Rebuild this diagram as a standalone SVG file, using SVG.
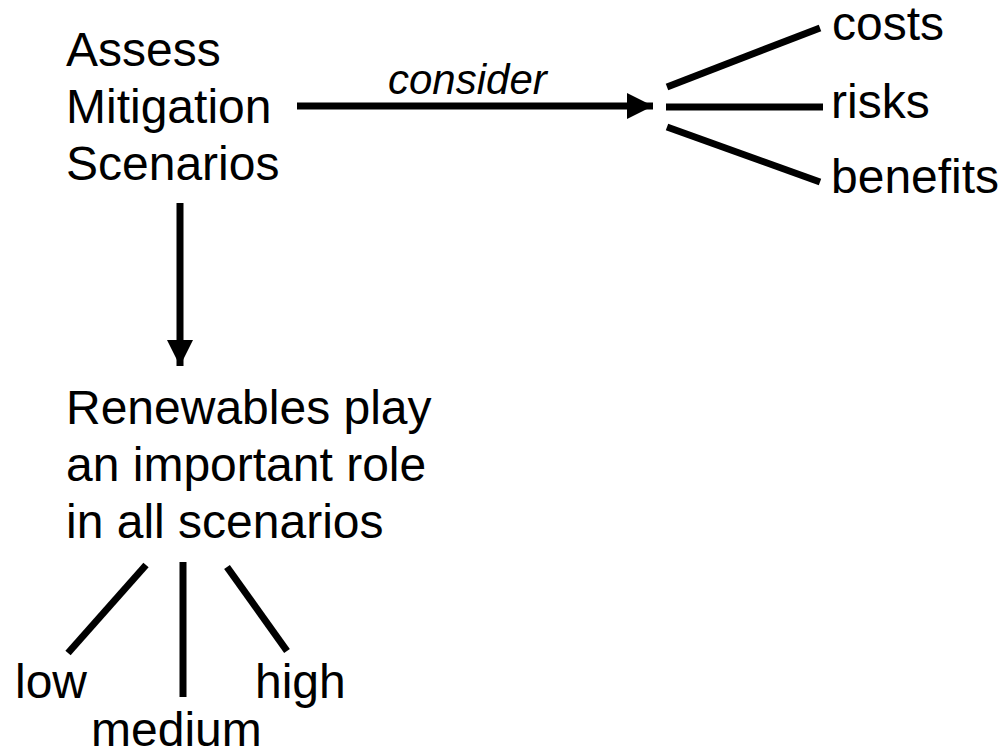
<svg xmlns="http://www.w3.org/2000/svg" width="1006" height="752" viewBox="0 0 1006 752">
  <defs>
    <style>
      text { font-family: "Liberation Sans", Arial, sans-serif; font-size: 48px; fill: #000; }
      .lbl { font-style: italic; font-size: 42px; }
      .edge { stroke: #000; stroke-width: 7; fill: none; }
    </style>
    <marker id="head" viewBox="0 0 10 10" refX="10" refY="5" markerUnits="userSpaceOnUse" markerWidth="26" markerHeight="26" orient="auto">
      <path d="M0,0 L10,5 L0,10 Z" fill="#000"/>
    </marker>
  </defs>
  <rect width="1006" height="752" fill="#fff"/>

  <!-- connectors -->
  <g id="connectors">
    <line class="edge" x1="297" y1="106" x2="653" y2="106" marker-end="url(#head)"/>
    <line class="edge" x1="180" y1="203" x2="180" y2="366" marker-end="url(#head)"/>
    <line class="edge" x1="667" y1="87" x2="820" y2="28"/>
    <line class="edge" x1="666" y1="107" x2="823" y2="107"/>
    <line class="edge" x1="667" y1="127" x2="820" y2="182"/>
    <line class="edge" x1="68" y1="653" x2="146" y2="565"/>
    <line class="edge" x1="183" y1="562" x2="183" y2="697"/>
    <line class="edge" x1="227" y1="567" x2="287" y2="651"/>
    <text class="lbl" x="388" y="94">consider</text>
  </g>

  <!-- nodes -->
  <g id="assess">
    <text x="66" y="66">Assess</text>
    <text x="66" y="123">Mitigation</text>
    <text x="66" y="180">Scenarios</text>
  </g>
  <g id="renewables">
    <text x="66" y="424">Renewables play</text>
    <text x="66" y="481">an important role</text>
    <text x="66" y="538">in all scenarios</text>
  </g>
  <g id="costs"><text x="832" y="40">costs</text></g>
  <g id="risks"><text x="831" y="118">risks</text></g>
  <g id="benefits"><text x="831" y="193">benefits</text></g>
  <g id="low"><text x="15" y="698">low</text></g>
  <g id="medium"><text x="91" y="746">medium</text></g>
  <g id="high"><text x="255" y="698">high</text></g>
</svg>
